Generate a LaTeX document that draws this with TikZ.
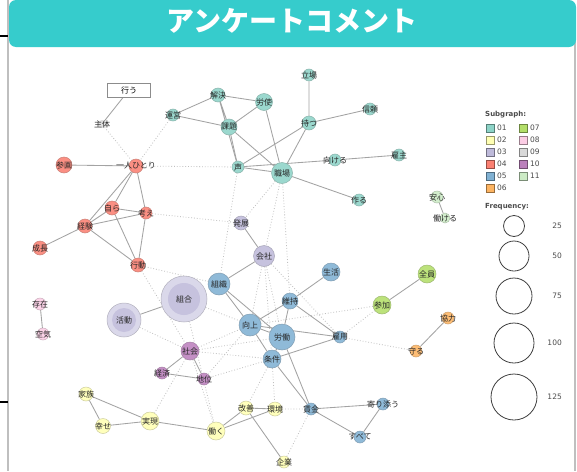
\documentclass[tikz,border=0pt]{standalone}
\usepackage{fontspec}
\setmainfont{Noto Sans CJK JP}
\newfontfamily\legfont{DejaVu Sans}
\usepackage{tikz}
\usetikzlibrary{backgrounds}
\definecolor{titlebar}{HTML}{36CCCC}
\definecolor{c01}{HTML}{8DD3C7}
\definecolor{c02}{HTML}{FFFFB3}
\definecolor{c03}{HTML}{BEBADA}
\definecolor{c04}{HTML}{FB8072}
\definecolor{c05}{HTML}{80B1D3}
\definecolor{c06}{HTML}{FDB462}
\definecolor{c07}{HTML}{B3DE69}
\definecolor{c08}{HTML}{FCCDE5}
\definecolor{c09}{HTML}{D9D9D9}
\definecolor{c10}{HTML}{BC80BD}
\definecolor{c11}{HTML}{CCEBC5}

\begin{document}
\begin{tikzpicture}[x=1pt,y=-1pt,
  wd/.style={circle, inner sep=0pt, fill=#1!88!white, draw=#1!60!gray, line width=0.5pt},
  lbl/.style={font=\fontsize{8}{8}\selectfont, text=black!85, inner sep=0pt},
  ln/.style={draw=black!36, line width=0.85pt},
  dt/.style={draw=black!25, dotted, line width=0.8pt},
  sq/.style={draw=#1!60!black, fill=#1, minimum size=8pt, inner sep=0pt, line width=0.5pt},
  leg/.style={font=\legfont\fontsize{7.5}{8}\selectfont, text=black!70, inner sep=0pt},
  freq/.style={circle, draw=black!75, line width=0.8pt, inner sep=0pt}]
\useasboundingbox (0,0) rectangle (577,471);

% frame and title
\draw[black!25, line width=1.2pt] (8,0) -- (8,471);
\draw[black!25, line width=1.2pt] (575,40) -- (575,471);
\draw[black, line width=1.6pt] (0,36) -- (8,36);
\draw[black, line width=1.6pt] (0,402) -- (8,402);
\fill[titlebar, rounded corners=7pt] (9,0) rectangle (576,47);
\node[text=white, font=\bfseries\fontsize{28}{30}\selectfont] (title) at (292,21) {アンケートコメント};

% subgraph 09
\node[draw=black!45, line width=0.8pt, minimum width=43, minimum height=14, inner sep=0pt, font=\fontsize{8}{8}\selectfont] (okonau) at (129,90) {行う};
\node[wd=c09, minimum size=8, draw=none, label={[lbl]center:主体}] (shutai) at (102,124) {};

% subgraph 01
\node[wd=c01, minimum size=14, label={[lbl]center:解決}] (kaiketsu) at (218,95) {};
\node[wd=c01, minimum size=17, label={[lbl]center:労使}] (roushi) at (264,102) {};
\node[wd=c01, minimum size=12, label={[lbl]center:運営}] (unei) at (173,115) {};
\node[wd=c01, minimum size=16, label={[lbl]center:課題}] (kadai) at (229,127) {};
\node[wd=c01, minimum size=12, label={[lbl]center:立場}] (tachiba) at (309,75) {};
\node[wd=c01, minimum size=12, label={[lbl]center:信頼}] (shinrai) at (370,109) {};
\node[wd=c01, minimum size=14, label={[lbl]center:持つ}] (motsu) at (309,123) {};
\node[wd=c01, minimum size=12, label={[lbl]center:声}] (koe) at (238,167) {};
\node[wd=c01, minimum size=21, label={[lbl]center:職場}] (shokuba) at (282,173) {};
\node[wd=c01, minimum size=12, label={[lbl]center:向ける}] (mukeru) at (335,160) {};
\node[wd=c01, minimum size=12, label={[lbl]center:雇主}] (koshu) at (399,155) {};
\node[wd=c01, minimum size=12, label={[lbl]center:作る}] (tsukuru) at (359,200) {};

% subgraph 04
\node[wd=c04, minimum size=14, label={[lbl]center:一人ひとり}] (hitori) at (136,166) {};
\node[wd=c04, minimum size=16, label={[lbl]center:参画}] (sankaku) at (64,165) {};
\node[wd=c04, minimum size=14, label={[lbl]center:自ら}] (mizukara) at (112,208) {};
\node[wd=c04, minimum size=12, label={[lbl]center:考え}] (kangae) at (146,213) {};
\node[wd=c04, minimum size=14, label={[lbl]center:経験}] (keiken) at (85,226) {};
\node[wd=c04, minimum size=14, label={[lbl]center:成長}] (seicho) at (40,248) {};
\node[wd=c04, minimum size=14, label={[lbl]center:行動}] (kodo) at (138,265) {};

% subgraph 03
\node[wd=c03, minimum size=14, label={[lbl]center:発展}] (hatten) at (241,223) {};
\node[wd=c03, minimum size=21, label={[lbl]center:会社}] (kaisha) at (264,256) {};
\node[wd=c03!65!white, minimum size=46] (kumiai) at (184,299) {};
\node[wd=c03, draw=none, minimum size=32, label={[lbl]center:組合}] (kumiaiin) at (184,299) {};
\node[wd=c03!65!white, minimum size=34] (katsudo) at (124,320) {};
\node[wd=c03, draw=none, minimum size=24, label={[lbl]center:活動}] (katsudoin) at (124,320) {};

% subgraph 05
\node[wd=c05, minimum size=22, label={[lbl]center:組織}] (soshiki) at (219,284) {};
\node[wd=c05, minimum size=18, label={[lbl]center:生活}] (seikatsu) at (331,272) {};
\node[wd=c05, minimum size=16, label={[lbl]center:維持}] (iji) at (290,301) {};
\node[wd=c05, minimum size=22, label={[lbl]center:向上}] (kojo) at (250,325) {};
\node[wd=c05, minimum size=26, label={[lbl]center:労働}] (rodo) at (282,337) {};
\node[wd=c05, minimum size=12, label={[lbl]center:雇用}] (koyo) at (340,337) {};
\node[wd=c05, minimum size=18, label={[lbl]center:条件}] (joken) at (272,359) {};
\node[wd=c05, minimum size=12, label={[lbl]center:賃金}] (chingin) at (311,409) {};
\node[wd=c05, minimum size=12, label={[lbl]center:寄り添う}] (yorisou) at (383,404) {};
\node[wd=c05, minimum size=12, label={[lbl]center:すべて}] (subete) at (360,437) {};

% subgraphs 06, 07, 08, 11
\node[wd=c07, minimum size=18, label={[lbl]center:全員}] (zenin) at (427,274) {};
\node[wd=c07, minimum size=18, label={[lbl]center:参加}] (sanka) at (382,305) {};
\node[wd=c06, minimum size=12, label={[lbl]center:協力}] (kyoryoku) at (448,318) {};
\node[wd=c06, minimum size=12, label={[lbl]center:守る}] (mamoru) at (416,351) {};
\node[wd=c08, minimum size=12, label={[lbl]center:存在}] (sonzai) at (40,304) {};
\node[wd=c08, minimum size=12, label={[lbl]center:空気}] (kuki) at (43,334) {};
\node[wd=c11, minimum size=12, label={[lbl]center:安心}] (anshin) at (437,197) {};
\node[wd=c11, minimum size=10, label={[lbl]center:働ける}] (hatarakeru) at (445,218) {};

% subgraph 10
\node[wd=c10, minimum size=18, label={[lbl]center:社会}] (shakai) at (190,351) {};
\node[wd=c10, minimum size=12, label={[lbl]center:経済}] (keizai) at (162,373) {};
\node[wd=c10, minimum size=12, label={[lbl]center:地位}] (chii) at (204,379) {};

% subgraph 02
\node[wd=c02, minimum size=14, label={[lbl]center:家族}] (kazoku) at (86,394) {};
\node[wd=c02, minimum size=15, label={[lbl]center:幸せ}] (shiawase) at (103,426) {};
\node[wd=c02, minimum size=18, label={[lbl]center:実現}] (jitsugen) at (150,421) {};
\node[wd=c02, minimum size=18, label={[lbl]center:働く}] (hataraku) at (216,431) {};
\node[wd=c02, minimum size=14, label={[lbl]center:改善}] (kaizen) at (246,408) {};
\node[wd=c02, minimum size=14, label={[lbl]center:環境}] (kankyo) at (275,409) {};
\node[wd=c02, minimum size=12, label={[lbl]center:企業}] (kigyo) at (284,462) {};

% edges
\begin{scope}[on background layer]
\fill[white] (0,0) rectangle (577,471);
\draw[dt] (shutai) -- (hitori) (unei) -- (hitori) (hitori) -- (koe);
\draw[dt] (kangae) -- (hatten) (koe) -- (soshiki) (shokuba) -- (hatten) (shokuba) -- (kaisha) (shokuba) -- (iji);
\draw[dt] (kodo) -- (soshiki) (kodo) -- (shakai) (katsudo) -- (shakai) (kumiai) -- (kojo) (kumiai) -- (hataraku);
\draw[dt] (kaisha) -- (kojo) (kaisha) -- (rodo) (kaisha) -- (joken) (kaisha) -- (koyo);
\draw[dt] (shakai) -- (kojo) (shakai) -- (rodo) (shakai) -- (joken) (shakai) -- (hataraku) (shakai) -- (jitsugen);
\draw[dt] (chii) -- (joken) (chii) -- (kojo) (joken) -- (kaizen) (joken) -- (kankyo) (kankyo) -- (chingin) (kigyo) -- (chingin);
\draw[dt] (sanka) -- (kojo) (sanka) -- (koyo) (koyo) -- (mamoru);
\draw[ln] (okonau) -- (shutai);
\draw[ln] (unei) -- (kaiketsu) (unei) -- (kadai) (kaiketsu) -- (roushi) (kaiketsu) -- (kadai) (kaiketsu) -- (koe);
\draw[ln] (kadai) -- (koe) (roushi) -- (kadai) (roushi) -- (shokuba) (kadai) -- (shokuba);
\draw[ln] (tachiba) -- (motsu) (shinrai) -- (motsu) (motsu) -- (koe) (motsu) -- (shokuba) (koe) -- (shokuba);
\draw[ln] (koe) -- (mukeru) (mukeru) -- (koshu) (shokuba) -- (tsukuru);
\draw[ln] (hitori) -- (sankaku) (hitori) -- (keiken) (hitori) -- (mizukara) (hitori) -- (kangae);
\draw[ln] (mizukara) -- (kangae) (mizukara) -- (keiken) (mizukara) -- (kodo) (kangae) -- (keiken) (kangae) -- (kodo);
\draw[ln] (keiken) -- (seicho) (keiken) -- (kodo);
\draw[ln] (hatten) -- (kaisha) (kaisha) -- (soshiki) (kumiai) -- (katsudo);
\draw[ln] (soshiki) -- (kojo) (soshiki) -- (rodo) (seikatsu) -- (iji) (iji) -- (kojo) (iji) -- (rodo) (iji) -- (koyo);
\draw[ln] (kojo) -- (rodo) (kojo) -- (koyo) (kojo) -- (joken) (rodo) -- (joken) (joken) -- (koyo);
\draw[ln] (rodo) -- (chingin) (joken) -- (chingin) (chingin) -- (yorisou) (chingin) -- (subete) (yorisou) -- (subete);
\draw[ln] (zenin) -- (sanka) (kyoryoku) -- (mamoru) (sonzai) -- (kuki) (anshin) -- (hatarakeru);
\draw[ln] (shakai) -- (keizai) (shakai) -- (chii) (keizai) -- (chii);
\draw[ln] (kazoku) -- (shiawase) (kazoku) -- (jitsugen) (shiawase) -- (jitsugen) (jitsugen) -- (hataraku);
\draw[ln] (hataraku) -- (kaizen) (hataraku) -- (kankyo) (kaizen) -- (kankyo) (kaizen) -- (kigyo);
\end{scope}

% legend
\node[leg, anchor=west, font=\legfont\bfseries\fontsize{7}{8}\selectfont] (subhead) at (485,115) {Subgraph:};
\node[sq=c01] (s01) at (490,128) {}; \node[leg, anchor=west] at (497,128) {01};
\node[sq=c02] (s02) at (490,140) {}; \node[leg, anchor=west] at (497,140) {02};
\node[sq=c03] (s03) at (490,152) {}; \node[leg, anchor=west] at (497,152) {03};
\node[sq=c04] (s04) at (490,164) {}; \node[leg, anchor=west] at (497,164) {04};
\node[sq=c05] (s05) at (490,176) {}; \node[leg, anchor=west] at (497,176) {05};
\node[sq=c06] (s06) at (490,188) {}; \node[leg, anchor=west] at (497,188) {06};
\node[sq=c07] (s07) at (523,128) {}; \node[leg, anchor=west] at (530,128) {07};
\node[sq=c08] (s08) at (523,140) {}; \node[leg, anchor=west] at (530,140) {08};
\node[sq=c09] (s09) at (523,152) {}; \node[leg, anchor=west] at (530,152) {09};
\node[sq=c10] (s10) at (523,164) {}; \node[leg, anchor=west] at (530,164) {10};
\node[sq=c11] (s11) at (523,176) {}; \node[leg, anchor=west] at (530,176) {11};
\node[leg, anchor=west, font=\legfont\bfseries\fontsize{7}{8}\selectfont] (freqhead) at (485,207) {Frequency:};
\node[freq, minimum size=21] (f25) at (514,226) {}; \node[leg, anchor=east] at (562,226) {25};
\node[freq, minimum size=30] (f50) at (514,256) {}; \node[leg, anchor=east] at (562,256) {50};
\node[freq, minimum size=36] (f75) at (514,296) {}; \node[leg, anchor=east] at (562,296) {75};
\node[freq, minimum size=40] (f100) at (514,343) {}; \node[leg, anchor=east] at (562,343) {100};
\node[freq, minimum size=46] (f125) at (514,397) {}; \node[leg, anchor=east] at (562,397) {125};
\end{tikzpicture}
\end{document}
